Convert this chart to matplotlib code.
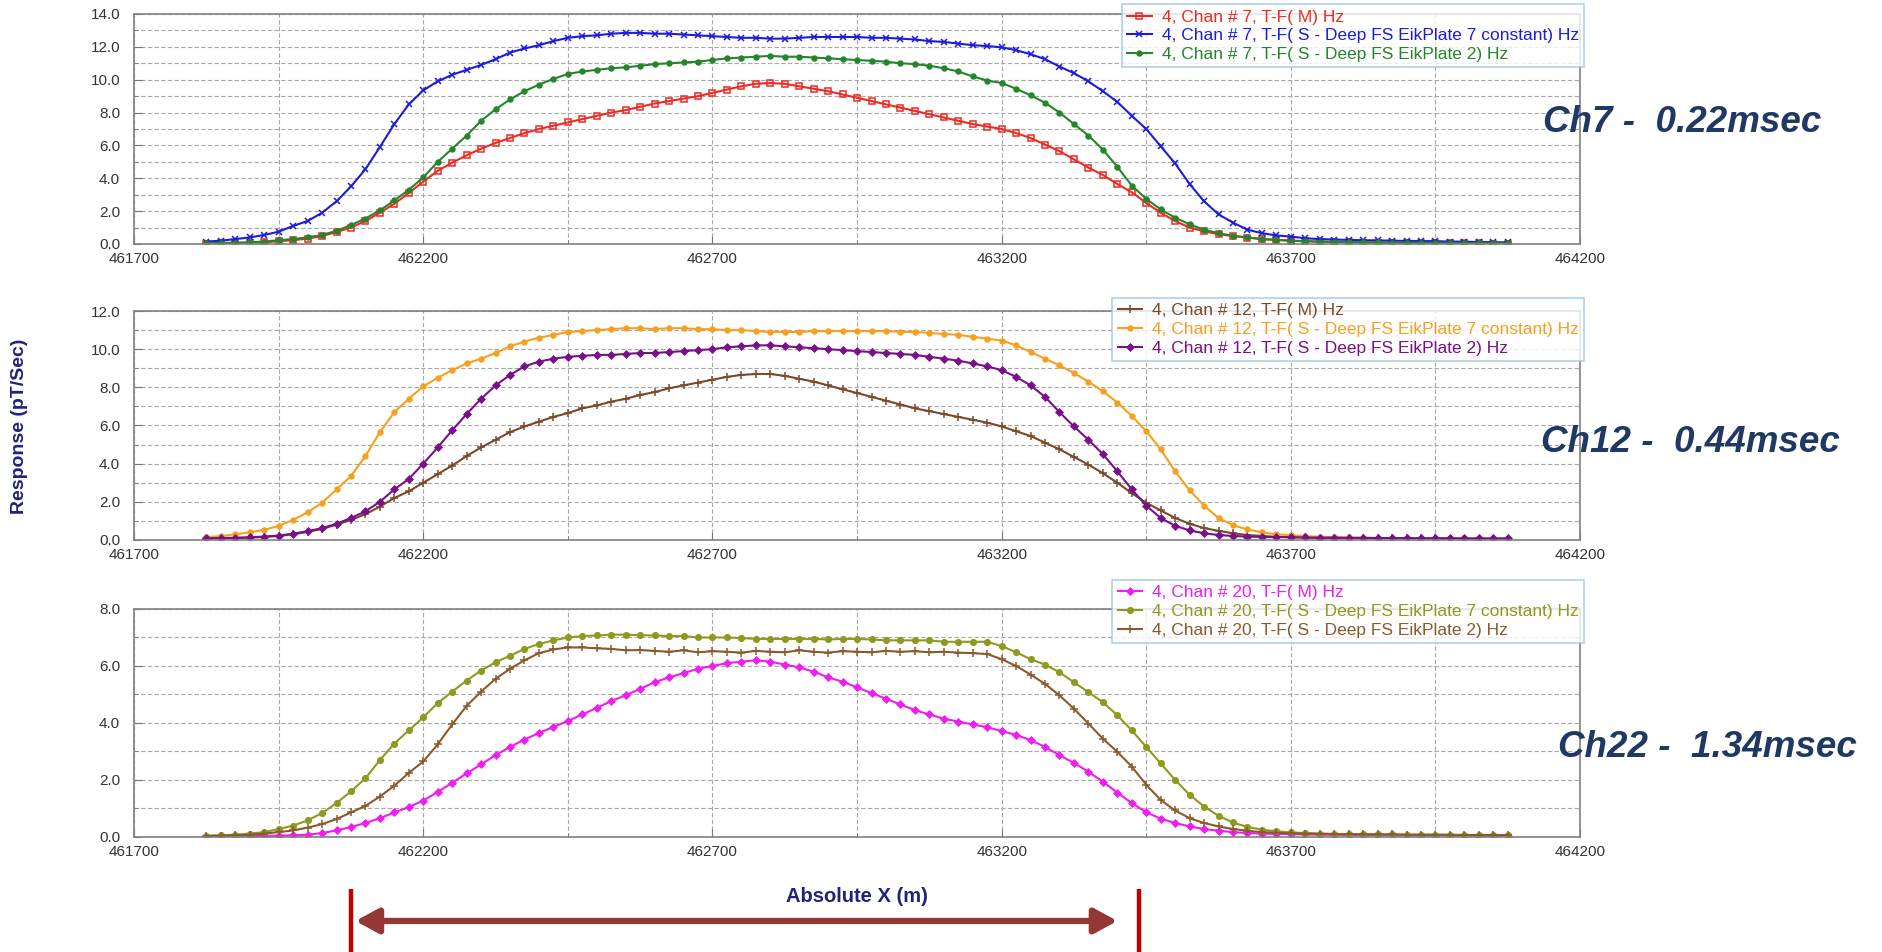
import numpy as np
import matplotlib.pyplot as plt
from matplotlib.patches import FancyArrowPatch
from matplotlib.transforms import blended_transform_factory
from matplotlib.ticker import MultipleLocator, FormatStrFormatter

plt.rcParams['font.family'] = ['Liberation Sans', 'DejaVu Sans']

# station positions along the line (m), one reading every 25 m
x = np.arange(461825, 464100, 25)

# --- Channel 7 ---
ch7_m = [0.02, 0.04, 0.06, 0.08, 0.1, 0.17, 0.23, 0.33, 0.48, 0.73, 1.0, 1.4, 1.9, 2.45, 3.1, 3.8,
         4.45, 4.95, 5.4, 5.8, 6.15, 6.45, 6.75, 7.0, 7.2, 7.4, 7.6, 7.8, 8.0, 8.15, 8.35, 8.55,
         8.7, 8.85, 9.0, 9.2, 9.4, 9.6, 9.75, 9.8, 9.75, 9.6, 9.45, 9.3, 9.1, 8.9, 8.7, 8.5,
         8.3, 8.1, 7.9, 7.7, 7.5, 7.3, 7.15, 7.0, 6.75, 6.45, 6.05, 5.65, 5.15, 4.65, 4.2, 3.65,
         3.15, 2.5, 1.9, 1.4, 1.0, 0.77, 0.6, 0.48, 0.39, 0.3, 0.25, 0.2, 0.17, 0.14, 0.12, 0.1,
         0.09, 0.08, 0.07, 0.06, 0.06, 0.05, 0.05, 0.04, 0.04, 0.03, 0.03]
ch7_plate7 = [0.15, 0.2, 0.3, 0.4, 0.55, 0.75, 1.1, 1.4, 1.9, 2.6, 3.5, 4.55, 5.9, 7.3, 8.5, 9.35,
              9.9, 10.3, 10.6, 10.9, 11.25, 11.65, 11.9, 12.1, 12.35, 12.55, 12.65, 12.7, 12.8, 12.85, 12.85, 12.8,
              12.8, 12.75, 12.7, 12.65, 12.6, 12.55, 12.55, 12.5, 12.5, 12.55, 12.6, 12.6, 12.6, 12.6, 12.55, 12.55,
              12.5, 12.45, 12.35, 12.3, 12.2, 12.1, 12.05, 11.97, 11.8, 11.55, 11.25, 10.8, 10.4, 9.9, 9.3, 8.65,
              7.8, 7.0, 5.95, 4.9, 3.65, 2.6, 1.8, 1.3, 0.87, 0.66, 0.52, 0.45, 0.35, 0.3, 0.27, 0.25,
              0.23, 0.22, 0.2, 0.19, 0.18, 0.17, 0.15, 0.14, 0.12, 0.11, 0.1]
ch7_plate2 = [0.05, 0.06, 0.08, 0.1, 0.15, 0.23, 0.3, 0.4, 0.55, 0.8, 1.15, 1.55, 2.05, 2.65, 3.3, 4.05,
              5.0, 5.8, 6.6, 7.5, 8.2, 8.8, 9.3, 9.7, 10.05, 10.35, 10.5, 10.6, 10.7, 10.75, 10.85, 10.95,
              11.0, 11.05, 11.1, 11.2, 11.3, 11.35, 11.4, 11.45, 11.4, 11.4, 11.35, 11.3, 11.25, 11.2, 11.15, 11.1,
              11.0, 10.95, 10.85, 10.7, 10.5, 10.2, 9.95, 9.8, 9.45, 9.05, 8.6, 8.0, 7.3, 6.6, 5.75, 4.7,
              3.55, 2.75, 2.1, 1.6, 1.2, 0.87, 0.66, 0.5, 0.4, 0.3, 0.25, 0.2, 0.17, 0.15, 0.13, 0.12,
              0.11, 0.1, 0.09, 0.08, 0.08, 0.07, 0.07, 0.06, 0.06, 0.05, 0.05]

# --- Channel 12 ---
ch12_m = [0.07, 0.09, 0.1, 0.12, 0.16, 0.21, 0.3, 0.42, 0.58, 0.8, 1.05, 1.35, 1.75, 2.2, 2.55, 3.0,
          3.45, 3.9, 4.4, 4.85, 5.25, 5.65, 5.95, 6.2, 6.45, 6.65, 6.9, 7.05, 7.25, 7.4, 7.6, 7.75,
          7.95, 8.1, 8.25, 8.4, 8.55, 8.65, 8.7, 8.7, 8.6, 8.45, 8.3, 8.1, 7.9, 7.7, 7.5, 7.3,
          7.1, 6.9, 6.75, 6.6, 6.45, 6.3, 6.15, 5.95, 5.7, 5.45, 5.1, 4.75, 4.35, 3.95, 3.5, 3.0,
          2.45, 1.95, 1.55, 1.15, 0.85, 0.62, 0.48, 0.35, 0.26, 0.21, 0.17, 0.15, 0.13, 0.12, 0.11, 0.1,
          0.1, 0.09, 0.09, 0.08, 0.08, 0.08, 0.07, 0.07, 0.07, 0.06, 0.06]
ch12_plate7 = [0.15, 0.2, 0.3, 0.4, 0.53, 0.74, 1.05, 1.45, 1.95, 2.65, 3.35, 4.4, 5.65, 6.7, 7.4, 8.05,
               8.5, 8.9, 9.25, 9.5, 9.8, 10.15, 10.4, 10.6, 10.75, 10.9, 10.95, 11.0, 11.05, 11.1, 11.1, 11.05,
               11.1, 11.1, 11.05, 11.05, 11.0, 11.0, 10.95, 10.9, 10.9, 10.9, 10.95, 10.95, 10.95, 10.95, 10.95, 10.95,
               10.9, 10.9, 10.85, 10.8, 10.75, 10.65, 10.55, 10.45, 10.2, 9.85, 9.5, 9.15, 8.75, 8.3, 7.8, 7.2,
               6.5, 5.7, 4.75, 3.6, 2.6, 1.8, 1.15, 0.78, 0.55, 0.4, 0.3, 0.25, 0.2, 0.17, 0.15, 0.13,
               0.12, 0.11, 0.1, 0.1, 0.09, 0.09, 0.08, 0.08, 0.07, 0.07, 0.07]
ch12_plate2 = [0.09, 0.1, 0.12, 0.14, 0.18, 0.23, 0.33, 0.46, 0.62, 0.85, 1.15, 1.5, 2.0, 2.65, 3.2, 4.0,
               4.85, 5.75, 6.6, 7.4, 8.1, 8.65, 9.1, 9.35, 9.5, 9.6, 9.65, 9.7, 9.7, 9.75, 9.8, 9.8,
               9.85, 9.9, 9.95, 10.0, 10.1, 10.15, 10.2, 10.2, 10.15, 10.1, 10.05, 10.0, 9.95, 9.9, 9.85, 9.8,
               9.75, 9.7, 9.6, 9.5, 9.4, 9.25, 9.1, 8.9, 8.55, 8.1, 7.5, 6.7, 5.95, 5.25, 4.5, 3.6,
               2.65, 1.8, 1.15, 0.74, 0.5, 0.35, 0.26, 0.21, 0.18, 0.16, 0.15, 0.14, 0.13, 0.12, 0.12, 0.11,
               0.11, 0.1, 0.1, 0.1, 0.09, 0.09, 0.09, 0.08, 0.08, 0.08, 0.08]

# --- Channel 20 ---
ch20_m = [0.01, 0.02, 0.02, 0.03, 0.04, 0.05, 0.06, 0.08, 0.14, 0.23, 0.35, 0.49, 0.66, 0.86, 1.05, 1.28,
          1.58, 1.9, 2.23, 2.55, 2.87, 3.16, 3.42, 3.65, 3.86, 4.07, 4.3, 4.53, 4.77, 4.97, 5.2, 5.43,
          5.6, 5.75, 5.9, 6.0, 6.1, 6.15, 6.2, 6.15, 6.05, 5.95, 5.8, 5.6, 5.45, 5.25, 5.05, 4.85,
          4.65, 4.45, 4.3, 4.15, 4.05, 3.95, 3.85, 3.72, 3.58, 3.4, 3.16, 2.87, 2.6, 2.29, 1.94, 1.56,
          1.19, 0.87, 0.64, 0.49, 0.37, 0.28, 0.22, 0.17, 0.14, 0.12, 0.11, 0.1, 0.09, 0.08, 0.08, 0.07,
          0.07, 0.06, 0.06, 0.06, 0.05, 0.05, 0.05, 0.05, 0.04, 0.04, 0.04]
ch20_plate7 = [0.05, 0.06, 0.08, 0.12, 0.17, 0.28, 0.4, 0.58, 0.84, 1.19, 1.6, 2.06, 2.7, 3.28, 3.74, 4.2,
               4.7, 5.1, 5.49, 5.84, 6.13, 6.36, 6.6, 6.77, 6.9, 7.0, 7.05, 7.07, 7.1, 7.1, 7.08, 7.07,
               7.05, 7.05, 7.0, 7.0, 7.0, 6.98, 6.95, 6.95, 6.95, 6.95, 6.95, 6.93, 6.95, 6.95, 6.93, 6.9,
               6.9, 6.9, 6.9, 6.85, 6.85, 6.85, 6.85, 6.7, 6.48, 6.24, 6.05, 5.78, 5.43, 5.08, 4.73, 4.27,
               3.74, 3.16, 2.58, 2.0, 1.48, 1.07, 0.74, 0.51, 0.35, 0.26, 0.2, 0.16, 0.14, 0.12, 0.11, 0.1,
               0.1, 0.09, 0.09, 0.08, 0.08, 0.08, 0.07, 0.07, 0.07, 0.07, 0.06]
ch20_plate2 = [0.03, 0.05, 0.06, 0.08, 0.12, 0.17, 0.23, 0.33, 0.45, 0.63, 0.86, 1.09, 1.42, 1.8, 2.25, 2.65,
               3.25, 3.95, 4.6, 5.1, 5.55, 5.9, 6.2, 6.45, 6.58, 6.65, 6.65, 6.62, 6.6, 6.55, 6.56, 6.53,
               6.5, 6.55, 6.48, 6.52, 6.5, 6.47, 6.53, 6.5, 6.48, 6.55, 6.5, 6.47, 6.52, 6.5, 6.48, 6.53,
               6.5, 6.52, 6.48, 6.5, 6.47, 6.45, 6.42, 6.24, 6.0, 5.7, 5.37, 4.97, 4.5, 3.98, 3.45, 2.99,
               2.47, 1.83, 1.3, 0.93, 0.66, 0.49, 0.37, 0.28, 0.22, 0.17, 0.15, 0.13, 0.12, 0.11, 0.1, 0.1,
               0.09, 0.09, 0.09, 0.08, 0.08, 0.08, 0.08, 0.07, 0.07, 0.07, 0.07]

labels7 = ["4, Chan # 7, T-F( M) Hz",
           "4, Chan # 7, T-F( S - Deep FS EikPlate 7 constant) Hz",
           "4, Chan # 7, T-F( S - Deep FS EikPlate 2) Hz"]
labels12 = ["4, Chan # 12, T-F( M) Hz",
            "4, Chan # 12, T-F( S - Deep FS EikPlate 7 constant) Hz",
            "4, Chan # 12, T-F( S - Deep FS EikPlate 2) Hz"]
labels20 = ["4, Chan # 20, T-F( M) Hz",
            "4, Chan # 20, T-F( S - Deep FS EikPlate 7 constant) Hz",
            "4, Chan # 20, T-F( S - Deep FS EikPlate 2) Hz"]

channel_notes = ["Ch7 -  0.22msec", "Ch12 -  0.44msec", "Ch22 -  1.34msec"]

# arrow span under the bottom panel (m)
arrow_span = [462078, 463405]
marker_lines = [462075, 463437]

navy = '#22227a'

fig = plt.figure(figsize=(18.83, 9.52), dpi=100)

panels = [
    dict(rect=[0.0712, 0.7437, 0.7679, 0.2416], ymax=14,
         series=[(ch7_m, '#ee2a24', 's', 4.5, 'none'),
                 (ch7_plate7, '#1c1cdc', 'x', 4.5, '#1c1cdc'),
                 (ch7_plate2, '#23862a', 'o', 3.5, '#23862a')],
         labels=labels7, leg_top=1.042),
    dict(rect=[0.0712, 0.4328, 0.7679, 0.2405], ymax=12,
         series=[(ch12_m, '#7a4a28', '+', 5.5, '#7a4a28'),
                 (ch12_plate7, '#f7a020', 'o', 3.5, '#f7a020'),
                 (ch12_plate2, '#7a1088', 'D', 3.5, '#7a1088')],
         labels=labels12, leg_top=1.057),
    dict(rect=[0.0712, 0.1208, 0.7679, 0.2395], ymax=8,
         series=[(ch20_m, '#f01cf0', 'D', 3.5, '#f01cf0'),
                 (ch20_plate7, '#8e9a1e', 'o', 4, '#8e9a1e'),
                 (ch20_plate2, '#8b5a2b', '+', 5.5, '#8b5a2b')],
         labels=labels20, leg_top=1.127),
]

axes = []
for p in panels:
    ax = fig.add_axes(p['rect'])
    for (vals, col, mk, ms, mfc), lab in zip(p['series'], p['labels']):
        ax.plot(x, vals, color=col, lw=1.5, marker=mk, ms=ms, mfc=mfc, mew=1.1, label=lab)
    ax.set_xlim(461700, 464200)
    ax.set_ylim(0, p['ymax'])
    ax.xaxis.set_major_locator(MultipleLocator(500, offset=200))
    ax.xaxis.set_minor_locator(MultipleLocator(250, offset=200))
    ax.xaxis.set_major_formatter(FormatStrFormatter('%d'))
    ax.yaxis.set_major_locator(MultipleLocator(2))
    ax.yaxis.set_minor_locator(MultipleLocator(1))
    ax.yaxis.set_major_formatter(FormatStrFormatter('%.1f'))
    ax.grid(True, which='both', color='#a8a8a8', lw=0.8, ls=(0, (4, 2)))
    ax.set_axisbelow(True)
    ax.tick_params(which='both', direction='in', labelsize=11, labelcolor='#333333', color='#777777')
    ax.tick_params(which='major', length=6)
    ax.tick_params(which='minor', length=3)
    ax.tick_params(axis='y', pad=10)
    ax.tick_params(axis='x', pad=6)
    for s in ax.spines.values():
        s.set_color('#808080')
        s.set_linewidth(1.2)
    leg = ax.legend(loc='upper right', bbox_to_anchor=(1.003, p['leg_top']), borderaxespad=0,
                    fontsize=12.5, frameon=True, fancybox=False, handlelength=1.4,
                    handletextpad=0.6, labelspacing=0.2, borderpad=0.3)
    leg.get_frame().set_edgecolor('#9cc3e6')
    leg.get_frame().set_linewidth(1.2)
    for t, line in zip(leg.get_texts(), leg.get_lines()):
        t.set_color(line.get_color())
    axes.append(ax)

# channel delay notes on the right
note_pos = [(0.8194, 0.8718), (0.8184, 0.5347), (0.8274, 0.2153)]
for (nx, ny), note in zip(note_pos, channel_notes):
    fig.text(nx, ny, note, fontsize=26.5, fontweight='bold', fontstyle='italic',
             color='#1f3864', ha='left', va='center')

fig.text(0.0106, 0.5525, 'Response (pT/Sec)', rotation=90, fontsize=14, fontweight='bold',
         color=navy, ha='center', va='center')
fig.text(0.455, 0.0588, 'Absolute X (m)', fontsize=14.5, fontweight='bold',
         color=navy, ha='center', va='center')

# red bracket and arrow under the bottom panel
bt = blended_transform_factory(axes[2].transData, fig.transFigure)
for xm in marker_lines:
    axes[2].plot([xm, xm], [0.0, 0.0662], transform=bt, color='#c00000', lw=3.2,
                 clip_on=False, solid_capstyle='butt')
arr = FancyArrowPatch((arrow_span[0], 0.0326), (arrow_span[1], 0.0326), transform=bt,
                      arrowstyle='<|-|>,head_length=0.55,head_width=0.3', mutation_scale=25,
                      color='#953735', lw=4.5, clip_on=False)
axes[2].add_artist(arr)

fig.savefig('out.png', dpi=100)
